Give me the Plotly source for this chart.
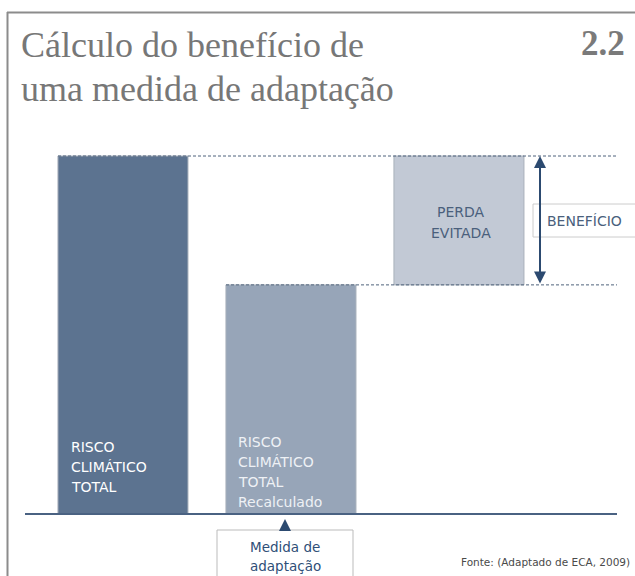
import plotly.graph_objects as go

# ---- data ----
categories = ["Risco climático total", "Risco climático total recalculado", "Perda evitada"]
risco_total = 100
risco_recalculado = 64
beneficio = risco_total - risco_recalculado

bar1_lines = ["RISCO", "CLIMÁTICO", "TOTAL"]
bar2_lines = ["RISCO", "CLIMÁTICO", "TOTAL", "Recalculado"]
bar3_lines = ["PERDA", "EVITADA"]
medida_lines = ["Medida de", "adaptação"]
title_lines = ["Cálculo do benefício de", "uma medida de adaptação"]
fig_number = "2.2"
fonte = "Fonte: (Adaptado de ECA, 2009)"

W, H = 635, 576
def px(x):
    return x / W
def py(y):
    return 1 - y / H

SANS = "DejaVu Sans, Verdana, sans-serif"
SERIF = "Liberation Serif, Times New Roman, serif"
NAVY = "#2c4a70"

fig = go.Figure()
edge = dict(color="#a9b1bc", width=1)
fig.add_bar(x=[categories[0]], y=[risco_total], marker=dict(color="#5c7390", line=edge), width=0.774)
fig.add_bar(x=[categories[1]], y=[risco_recalculado], marker=dict(color="#97a5b8", line=edge), width=0.774)
fig.add_bar(x=[categories[2]], y=[beneficio], base=[risco_recalculado],
            marker=dict(color="#c2c9d5", line=edge), width=0.774)

shapes = []
# frame
shapes.append(dict(type="line", xref="paper", yref="paper", x0=px(7), x1=px(636), y0=py(12.5), y1=py(12.5),
                   line=dict(color="#8c8c8c", width=2)))
shapes.append(dict(type="line", xref="paper", yref="paper", x0=px(7.5), x1=px(7.5), y0=py(12), y1=py(577),
                   line=dict(color="#8c8c8c", width=2)))
# dashed reference lines
shapes.append(dict(type="line", xref="paper", yref="y", x0=px(58), x1=px(617), y0=risco_total, y1=risco_total,
                   line=dict(color="#4f627c", width=1, dash="3px,2px")))
shapes.append(dict(type="line", xref="paper", yref="y", x0=px(226), x1=px(617), y0=risco_recalculado, y1=risco_recalculado,
                   line=dict(color="#4f627c", width=1, dash="3px,2px")))
# baseline
shapes.append(dict(type="line", xref="paper", yref="y", x0=px(25), x1=px(617), y0=0, y1=0,
                   line=dict(color="#4a6282", width=2)))
# benefit box
shapes.append(dict(type="rect", xref="paper", yref="paper", x0=px(533), x1=px(640), y0=py(204), y1=py(237),
                   line=dict(color="#cccccc", width=1), fillcolor="white", layer="above"))
# medida box
shapes.append(dict(type="rect", xref="paper", yref="paper", x0=px(217), x1=px(353), y0=py(530), y1=py(590),
                   line=dict(color="#bbbbbb", width=1), fillcolor="white"))

ann = []
# titles
for i, t in enumerate(title_lines):
    ann.append(dict(text=t, xref="paper", yref="paper", x=px(19), y=py(45 + 44 * i), xanchor="left", yanchor="middle",
                    showarrow=False, font=dict(family=SERIF, size=36, color="#777777")))
ann.append(dict(text="<b>" + fig_number + "</b>", xref="paper", yref="paper", x=px(627), y=py(43), xanchor="right",
                yanchor="middle", showarrow=False, font=dict(family=SERIF, size=35, color="#7a7a7a")))
# bar labels
for i, t in enumerate(bar1_lines):
    ann.append(dict(text=t, xref="paper", yref="paper", x=px(69), y=py(447 + 20 * i), xanchor="left", yanchor="middle",
                    showarrow=False, font=dict(family=SANS, size=14, color="white")))
for i, t in enumerate(bar2_lines):
    ann.append(dict(text=t, xref="paper", yref="paper", x=px(236), y=py(441.5 + 20 * i), xanchor="left", yanchor="middle",
                    showarrow=False, font=dict(family=SANS, size=14, color="#eef1f5")))
for i, t in enumerate(bar3_lines):
    ann.append(dict(text=t, xref="paper", yref="paper", x=px(461), y=py(212 + 21 * i), xanchor="center", yanchor="middle",
                    showarrow=False, font=dict(family=SANS, size=14, color="#4a5f7c")))
ann.append(dict(text="BENEFÍCIO", xref="paper", yref="paper", x=px(545), y=py(221), xanchor="left", yanchor="middle",
                showarrow=False, font=dict(family=SANS, size=14, color="#4a5f7c")))
for i, t in enumerate(medida_lines):
    ann.append(dict(text=t, xref="paper", yref="paper", x=px(285), y=py(547 + 19 * i), xanchor="center", yanchor="middle",
                    showarrow=False, font=dict(family=SANS, size=13.5, color="#2f4f78")))
ann.append(dict(text=fonte, xref="paper", yref="paper", x=px(632), y=py(562), xanchor="right", yanchor="middle",
                showarrow=False, font=dict(family=SANS, size=10.5, color="#4a4a4a")))
# double arrow for benefit
ann.append(dict(x=px(540), y=risco_total, xref="x domain", yref="y", ax=px(540), ay=risco_recalculado,
                axref="x domain", ayref="y", showarrow=True, arrowhead=2, arrowside="end+start", arrowsize=1.2,
                arrowwidth=2, arrowcolor=NAVY, text=""))
# medida arrow
ann.append(dict(x=px(285), y=py(519), xref="x domain", yref="y domain", ax=px(285), ay=py(530),
                axref="x domain", ayref="y domain", showarrow=True, arrowhead=2, arrowsize=1.2,
                arrowwidth=2, arrowcolor=NAVY, text=""))

fig.update_layout(
    width=W, height=H, margin=dict(l=0, r=0, t=0, b=0),
    paper_bgcolor="white", plot_bgcolor="white",
    barmode="overlay", showlegend=False,
    xaxis=dict(type="category", categoryorder="array", categoryarray=categories,
               range=[-0.732, 3.048], visible=False, fixedrange=True),
    yaxis=dict(range=[-17.32, 143.58], visible=False, fixedrange=True),
    shapes=shapes, annotations=ann,
)
fig.write_html("out.html", config={"displayModeBar": False},
               post_script="document.body.style.margin='0';document.body.style.overflow='hidden';")
